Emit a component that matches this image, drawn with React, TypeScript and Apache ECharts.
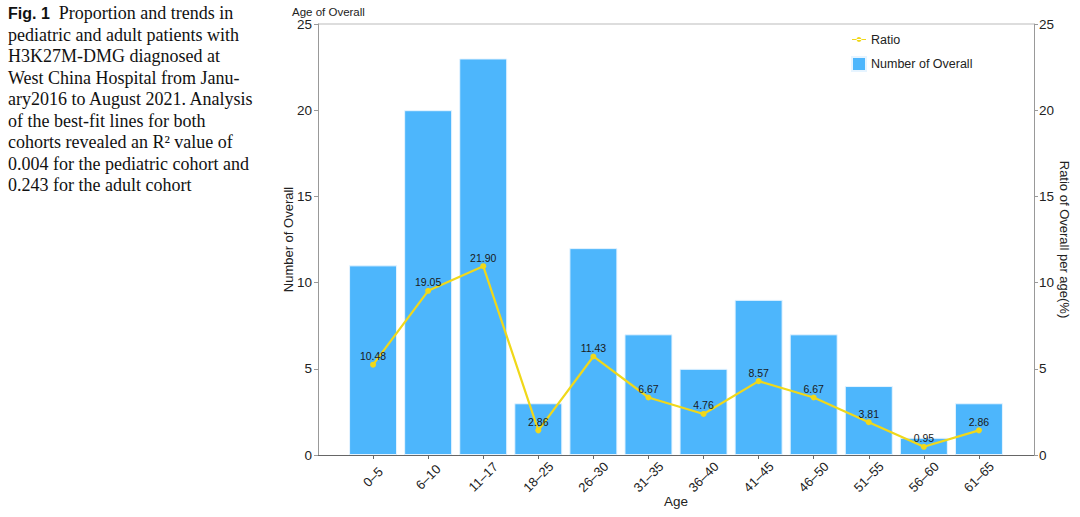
import React, { useEffect, useRef } from "react";
import * as echarts from "echarts";

// Age groups on the x axis
const ageGroups = ["0–5", "6–10", "11–17", "18–25", "26–30", "31–35", "36–40", "41–45", "46–50", "51–55", "56–60", "61–65"];
// Number of patients per age group
const overallCounts = [11, 20, 23, 3, 12, 7, 5, 9, 7, 4, 1, 3];
// Share of all patients per age group (%)
const ratioPercent = [10.48, 19.05, 21.9, 2.86, 11.43, 6.67, 4.76, 8.57, 6.67, 3.81, 0.95, 2.86];
// Axis ticks (both y axes)
const yTicks = [0, 5, 10, 15, 20, 25];

// Figure caption, broken into its printed lines
const captionLines = [
  "{b|Fig. 1}  Proportion and trends in",
  "pediatric and adult patients with",
  "H3K27M-DMG diagnosed at",
  "West China Hospital from Janu-",
  "ary2016 to August 2021. Analysis",
  "of the best-fit lines for both",
  "cohorts revealed an R² value of",
  "0.004 for the pediatric cohort and",
  "0.243 for the adult cohort",
];

const BAR = "#4DB6FC";
const LINE = "#F0D81A";
const SANS = "Liberation Sans, Arial, sans-serif";
const SERIF = "Liberation Serif, Times New Roman, serif";

export default function App() {
  const ref = useRef<HTMLDivElement>(null);

  useEffect(() => {
    if (!ref.current) return;
    const chart = echarts.init(ref.current, null, { renderer: "svg" });

    // empty slots at both ends keep the bars away from the axes
    const cats = ["", ...ageGroups, ""];
    const pad = (arr: number[]) => ["-", ...arr, "-"];

    const option: any = {
      animation: false,
      backgroundColor: "#fff",
      textStyle: { fontFamily: SANS },
      title: {
        text: "Age of Overall",
        left: 287,
        top: 1,
        textStyle: { fontSize: 11.5, fontWeight: "normal", color: "#222", fontFamily: SANS },
      },
      legend: {
        orient: "vertical",
        left: 846,
        top: 28,
        itemGap: 10,
        itemWidth: 14,
        itemHeight: 14,
        textStyle: { fontSize: 12.5, color: "#222", fontFamily: SANS },
        data: [
          { name: "Ratio", icon: "path://M0,6.5 L14,6.5 L14,7.5 L0,7.5 Z M4.5,7 A2.5,2.5 0 1,0 9.5,7 A2.5,2.5 0 1,0 4.5,7 Z" },
          { name: "Number of Overall", icon: "rect" },
        ],
      },
      grid: { left: 318, right: 46, top: 24, bottom: 62, containLabel: false, outerBoundsMode: "none" },
      xAxis: {
        type: "category",
        data: cats,
        boundaryGap: false,
        name: "Age",
        nameLocation: "middle",
        nameGap: 39,
        nameMoveOverlap: false,
        nameTextStyle: { fontSize: 13.5, color: "#222" },
        axisLine: { lineStyle: { color: "#666", width: 1 } },
        axisTick: {
          interval: (i: number) => i > 0 && i < cats.length - 1,
          length: 4,
          lineStyle: { color: "#666" },
        },
        axisLabel: {
          interval: 0,
          rotate: 45,
          align: "center",
          verticalAlign: "middle",
          fontSize: 13,
          color: "#222",
          margin: 22,
        },
        splitLine: { show: false },
      },
      yAxis: [
        {
          type: "value",
          min: 0,
          max: 25,
          interval: 5,
          name: "Number of Overall",
          nameLocation: "middle",
          nameGap: 23,
          nameMoveOverlap: false,
          nameTextStyle: { fontSize: 13, color: "#222" },
          axisLine: { show: true, lineStyle: { color: "#999" } },
          axisTick: { show: true, length: 4, lineStyle: { color: "#999" } },
          axisLabel: { fontSize: 13.5, color: "#222", margin: 6 },
          splitLine: { show: false },
        },
        {
          type: "value",
          min: 0,
          max: 25,
          interval: 5,
          position: "right",
          name: "Ratio of Overall per age(%)",
          nameLocation: "middle",
          nameGap: 24,
          nameRotate: -90,
          nameMoveOverlap: false,
          nameTextStyle: { fontSize: 13, color: "#222" },
          axisLine: { show: true, lineStyle: { color: "#999" } },
          axisTick: { show: true, length: 4, lineStyle: { color: "#999" } },
          axisLabel: { fontSize: 13.5, color: "#222", margin: 5, formatter: (v: number) => (yTicks.includes(v) ? String(v) : "") },
          splitLine: { show: false },
        },
        {
          // scale used to place the ratio line
          type: "value",
          min: 0,
          max: 50,
          show: false,
          splitLine: { show: false },
        },
      ],
      series: [
        {
          name: "Number of Overall",
          type: "bar",
          yAxisIndex: 0,
          data: pad(overallCounts),
          barWidth: 48,
          itemStyle: { color: BAR, borderColor: "#E6F4FF", borderWidth: 1 },
          z: 2,
        },
        {
          name: "Ratio",
          type: "line",
          yAxisIndex: 2,
          data: pad(ratioPercent),
          symbol: "circle",
          symbolSize: 6,
          lineStyle: { color: LINE, width: 2.2 },
          itemStyle: { color: LINE },
          label: {
            show: true,
            position: "top",
            distance: 0,
            fontSize: 10.5,
            color: "#1a1a1a",
            formatter: (p: any) => Number(p.value).toFixed(2),
          },
          z: 5,
        },
      ],
      graphic: [
        // top frame line of the plot area
        {
          type: "line",
          shape: { x1: 318, y1: 24, x2: 1034, y2: 24 },
          style: { stroke: "#bbb", lineWidth: 1 },
          silent: true,
        },
        ...captionLines.map((t, i) => ({
          type: "text",
          left: 8,
          top: 4 + i * 21.5,
          style: {
            text: t,
            fontFamily: SERIF,
            fontSize: 18,
            fill: "#111",
            rich: {
              b: { fontFamily: SANS, fontWeight: "bold", fontSize: 16, fill: "#111" },
            },
          },
        })),
      ],
    };

    chart.setOption(option);
    return () => chart.dispose();
  }, []);

  return (
    <div
      ref={ref}
      style={{ position: "fixed", left: 0, top: 0, width: 1080, height: 517 }}
    />
  );
}
